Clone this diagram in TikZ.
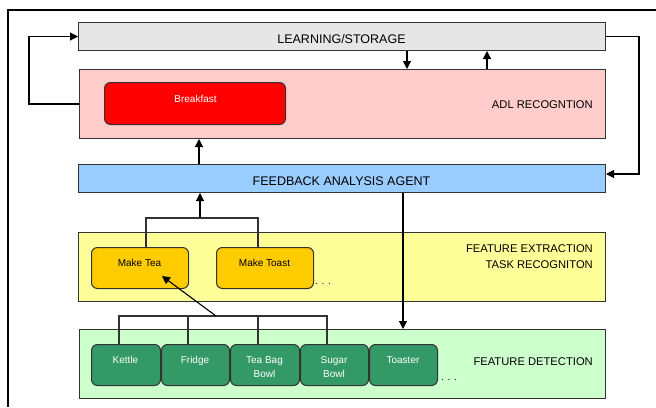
\documentclass[tikz,border=0pt]{standalone}
\usepackage{fontspec}
\setmainfont{Liberation Sans}
\usetikzlibrary{arrows.meta}
\definecolor{learnfill}{HTML}{E6E6E6}
\definecolor{adlfill}{HTML}{FFCCCC}
\definecolor{bfill}{HTML}{FF0000}
\definecolor{feedfill}{HTML}{99CCFF}
\definecolor{featfill}{HTML}{FFFF99}
\definecolor{taskfill}{HTML}{FFCC00}
\definecolor{detfill}{HTML}{CCFFCC}
\definecolor{sensfill}{HTML}{339966}
\definecolor{edge}{HTML}{333333}
\begin{document}
\begin{tikzpicture}[x=1pt,y=-1pt,
  layer/.style={draw=edge, line width=1pt, inner sep=0pt, anchor=north west},
  rbox/.style={layer, rounded corners=6pt},
  arr/.style={-{Triangle[length=8pt,width=8pt]}, line width=1.1pt, draw=black},
  conn/.style={line width=1.1pt, draw=edge},
  big/.style={inner sep=0pt, font=\fontsize{12.5}{15}\selectfont},
  mid/.style={inner sep=0pt, font=\fontsize{11.2}{14}\selectfont},
  small/.style={inner sep=0pt, font=\fontsize{10}{12}\selectfont},
  wsmall/.style={small, text=white}]
\useasboundingbox (0,0) rectangle (656,407);
% outer frame
\draw[line width=1.3pt] (656,10) -- (8,10) -- (8,407);
% layers
\node[layer, fill=learnfill, minimum width=527pt, minimum height=28pt] (learn) at (78,22) {};
\node[layer, fill=adlfill, minimum width=526pt, minimum height=69pt] (adl) at (79,69) {};
\node[rbox, fill=bfill, minimum width=181pt, minimum height=42pt] (bfast) at (104,82) {};
\node[layer, fill=feedfill, minimum width=527pt, minimum height=28pt] (feed) at (78,164) {};
\node[layer, fill=featfill, minimum width=527pt, minimum height=69pt] (feat) at (78,232) {};
\node[rbox, fill=taskfill, minimum width=97pt, minimum height=41pt] (tea) at (91,247) {};
\node[rbox, fill=taskfill, minimum width=97pt, minimum height=41pt] (toast) at (216,247) {};
\node[layer, fill=detfill, minimum width=526pt, minimum height=69pt] (det) at (79,329) {};
\node[rbox, fill=sensfill, minimum width=69pt, minimum height=41pt] (kettle) at (91,344) {};
\node[rbox, fill=sensfill, minimum width=68pt, minimum height=41pt] (fridge) at (161,344) {};
\node[rbox, fill=sensfill, minimum width=69pt, minimum height=41pt] (teabag) at (230,344) {};
\node[rbox, fill=sensfill, minimum width=68pt, minimum height=41pt] (sugar) at (300,344) {};
\node[rbox, fill=sensfill, minimum width=68pt, minimum height=41pt] (toaster) at (369,344) {};
% texts
\node[big, anchor=base] (tlearn) at (341.5,43) {LEARNING/STORAGE};
\node[mid, anchor=base east] (tadl) at (593,108) {ADL RECOGNTION};
\node[big, anchor=base] (tfeed) at (341.5,185.5) {FEEDBACK ANALYSIS AGENT};
\node[mid, anchor=base east] (tfe1) at (593,252.5) {FEATURE EXTRACTION};
\node[mid, anchor=base east] (tfe2) at (593,268.5) {TASK RECOGNITON};
\node[mid, anchor=base east] (tfd) at (593,365.5) {FEATURE DETECTION};
\node[wsmall, anchor=base] (tbf) at (195.5,102) {Breakfast};
\node[small, anchor=base] (ttea) at (139.5,266.5) {Make Tea};
\node[small, anchor=base] (ttoast) at (264.5,266.5) {Make Toast};
\node[small, anchor=base west] (dots1) at (315,284) {. . .};
\node[wsmall, anchor=base] (tket) at (125.5,363) {Kettle};
\node[wsmall, anchor=base] (tfr) at (195,363) {Fridge};
\node[wsmall, anchor=base] (ttb1) at (264.5,363) {Tea Bag};
\node[wsmall, anchor=base] (ttb2) at (264.5,377) {Bowl};
\node[wsmall, anchor=base] (tsb1) at (334,363) {Sugar};
\node[wsmall, anchor=base] (tsb2) at (334,377) {Bowl};
\node[wsmall, anchor=base] (ttoa) at (403,363) {Toaster};
\node[small, anchor=base west] (dots2) at (441,380) {. . .};
% connectors
\coordinate (lcorner) at (29,104);
\draw[arr] (adl.west |- lcorner) -- (lcorner) |- (learn.west);
\coordinate (rcorner) at (639,174);
\draw[arr] (learn.east) -| (rcorner) -- (feed.east |- rcorner);
\coordinate (dl) at (407,0);
\draw[arr] (learn.south -| dl) -- (adl.north -| dl);
\coordinate (ul) at (487,0);
\draw[arr] (adl.north -| ul) -- (learn.south -| ul);
\coordinate (fa) at (199,0);
\draw[arr] (feed.north -| fa) -- (adl.south -| fa);
% task tree
\coordinate (tj) at (200,218);
\draw[conn] (tea.north -| 146,0) |- (tj) -| (toast.north -| 258,0);
\draw[arr] (tj) -- (feed.south -| tj);
% feedback to detection
\coordinate (fd) at (403,0);
\draw[arr] (feed.south -| fd) -- (det.north -| fd);
% sensor tree
\coordinate (sj) at (216,316);
\draw[conn] (kettle.north -| 119,0) |- (327,316) -- (sugar.north -| 327,0);
\draw[conn] (fridge.north -| 188,0) -- (188,316);
\draw[conn] (teabag.north -| 258,0) -- (258,316);
\coordinate (teatip) at (162,276);
\draw[arr] (sj) -- (teatip);
\end{tikzpicture}
\end{document}
